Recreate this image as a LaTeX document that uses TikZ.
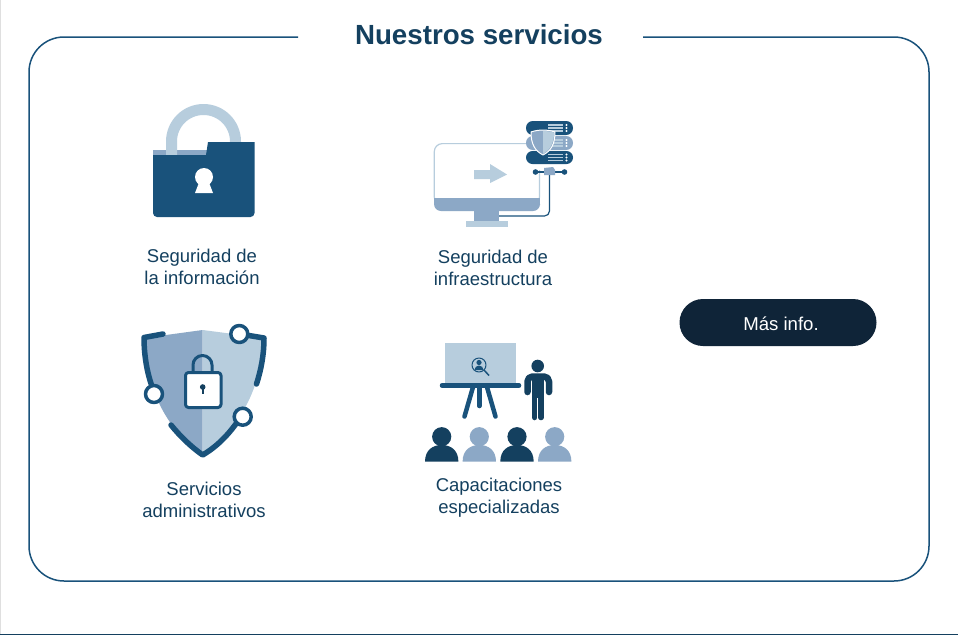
\documentclass[tikz,border=0pt]{standalone}
\usepackage{fontspec}
\setmainfont{Liberation Sans}
\definecolor{folderblue}{HTML}{19527B}
\definecolor{navyblue}{HTML}{14405F}
\definecolor{midblue}{HTML}{8CA8C6}
\definecolor{paleblue}{HTML}{B7CDDD}
\definecolor{btnblue}{HTML}{0F2438}
\begin{document}
\begin{tikzpicture}[x=1pt, y=-1pt, line join=round,
    label/.style = {text=navyblue, font=\fontsize{18.5}{22}\selectfont, align=center},
    dark/.style = {draw=folderblue, line width=5.5pt, line cap=round},
    ring/.style = {circle, draw=folderblue, line width=3.5pt, fill=white, minimum size=17pt, inner sep=0pt}]
    \useasboundingbox (0,0) rectangle (958,635);
    \fill[white] (0,0) rectangle (958,635);
    \fill[gray!25] (0,0) rectangle (1,635);
    \fill[navyblue] (0,634) rectangle (958,635);

    % Frame
    \draw[folderblue, line width=1.5pt, rounded corners=35pt] (298,37) -- (29,37) -- (29,581) -- (929,581) -- (929,37) -- (643,37);

    % Nodes
    \node[text=navyblue, font=\fontsize{27.7}{32}\selectfont\bfseries] (title) at (479,35) {Nuestros servicios};
    \node[label] (info) at (202,267) {Seguridad de\\la información};
    \node[label] (infra) at (493,268) {Seguridad de\\infraestructura};
    \node[label] (admin) at (204,500) {Servicios\\administrativos};
    \node[label] (training) at (499,497.5) {Capacitaciones\\especializadas};
    \node[fill=btnblue, rounded corners=23.5pt, minimum width=197pt, minimum height=47pt] (more) at (778,322.5) {};
    \node[text=white, font=\fontsize{18.6}{20}\selectfont] (moretext) at (781,324) {Más info.};

    % Folder
    \fill[midblue] (153,150) rectangle (207,156);
    \draw[paleblue, line width=11pt] (171.5,155) -- (171.5,141.5) arc[start angle=180, end angle=360, radius=32] -- (235.5,146);
    \fill[folderblue] (153,155) -- (206,155) -- (208,142) -- (254.5,142) [rounded corners=4pt] -- (254.5,217) -- (153,217) [sharp corners] -- cycle;
    \fill[white] (204,177) circle[radius=9];
    \fill[white] (200,180) -- (208,180) -- (213,193) -- (195,193) -- cycle;

    % Monitor
    \draw[paleblue, line width=1.2pt, rounded corners=8pt] (530,143.6) -- (434.3,143.6) -- (434.3,205) -- (539.5,205) -- (539.5,170);
    \fill[midblue, rounded corners=7pt] (434,198) -- (434,211) -- (540,211) -- (540,198) -- cycle;
    \fill[midblue] (434,198) rectangle (540,204);
    \fill[paleblue] (474,170) -- (490,170) -- (490,164) -- (507,174.5) -- (490,183) -- (490,179) -- (474,179) -- cycle;
    \fill[midblue] (474,211) rectangle (499,221);
    \fill[paleblue] (466,221) rectangle (508,227);

    % Servers
    \draw[folderblue, line width=1.2pt, rounded corners=5pt] (549.5,175) -- (549.5,216) -- (499,216);
    \fill[folderblue, rounded corners=6.8pt] (526,121) rectangle (573,135);
    \fill[midblue, rounded corners=6.8pt] (526,136) rectangle (573,150);
    \fill[folderblue, rounded corners=6.5pt] (526,151) rectangle (573,164);
    \foreach \rowy in {128,143,157.5}{
      \foreach \doty in {-3,0,3}{
        \draw[paleblue, line width=1.3pt] (548,\rowy+\doty) -- (563,\rowy+\doty);
        \fill[white] (566.5,\rowy+\doty) circle[radius=1.1];
      }
    }
    \draw[white, line width=1pt, fill=midblue] (543,130) .. controls (536,130) and (531,132) .. (531,132) .. controls (531,144) and (535,151) .. (543,155) .. controls (551,151) and (555,144) .. (555,132) .. controls (555,132) and (550,130) .. (543,130) -- cycle;
    \fill[paleblue] (543,131) .. controls (549,131) and (554,132.6) .. (554,132.6) .. controls (554,143) and (550,150) .. (543,154) -- cycle;
    \draw[folderblue, line width=2pt] (535,172) -- (565,172);
    \fill[folderblue] (535.5,172) circle[radius=2.8] (564.5,172) circle[radius=2.8];
    \fill[midblue] (544,168) -- (553,167) -- (555,170) -- (555,175) -- (544,175) -- cycle;

    % Shield
    \fill[midblue] (202.7,330) -- (144,338) .. controls (146,380) and (160,425) .. (202.7,455) -- cycle;
    \fill[paleblue] (202.7,330) -- (264,338) .. controls (262,380) and (245,425) .. (202.7,455) -- cycle;
    \draw[dark] (163,334) -- (144,337.5) .. controls (144,355) and (147,372) .. (151.5,385);
    \draw[dark] (240,334) -- (264,338) .. controls (264,355) and (261,370) .. (256.5,384);
    \draw[dark] (171,425) .. controls (180,436) and (190,446) .. (202.7,455) .. controls (216,447) and (228,436) .. (240,418);
    \node[ring] (ringa) at (154,394) {};
    \node[ring] (ringb) at (242.7,416.7) {};
    \node[ring] (ringc) at (239.3,334) {};
    \draw[folderblue, line width=3pt] (193,372) -- (193,365) arc[start angle=180, end angle=360, radius=9.5] -- (212,372);
    \draw[folderblue, line width=3pt, fill=white, rounded corners=3pt] (185.5,372.5) rectangle (221,407.5);
    \fill[navyblue] (202.7,387) circle[radius=2.8];
    \fill[navyblue] (201.7,388) rectangle (203.7,394);

    % Board
    \fill[paleblue] (445,343) rectangle (516,383);
    \draw[folderblue, line width=4.5pt, line cap=round] (442,385.5) -- (519,385.5);
    \draw[folderblue, line width=4.5pt, line cap=round] (473.3,386) -- (464.5,416.5);
    \draw[folderblue, line width=4.5pt, line cap=round] (479.3,386) -- (479.3,406);
    \draw[folderblue, line width=4.5pt, line cap=round] (486.7,386) -- (495.5,416.5);
    \draw[folderblue, line width=1pt] (479,365) circle[radius=7];
    \fill[folderblue] (479,362.5) circle[radius=2.6];
    \fill[folderblue] (474.5,370) arc[start angle=180, end angle=360, radius=4.5] -- cycle;
    \draw[folderblue, line width=1.5pt] (484,370) -- (489,375.5);

    % Speaker
    \fill[navyblue] (537.7,366) circle[radius=6.3];
    \draw[navyblue, line width=6.5pt, line cap=round, rounded corners=5pt] (527.5,392) -- (527.5,376.5) -- (549,376.5) -- (549,392);
    \fill[navyblue] (532,374) rectangle (544,398);
    \draw[navyblue, line width=5.5pt, line cap=round] (534.7,396) -- (534.7,417.5) (541,396) -- (541,417.5);

    % Audience
    \foreach \seatx/\seatcol in {441.7/navyblue, 479.3/midblue, 517/navyblue, 554.7/midblue}{
      \fill[\seatcol] (\seatx,436.7) circle[radius=9.6];
      \fill[\seatcol] (\seatx-16.7,461.7) .. controls (\seatx-16.7,450) and (\seatx-9,445) .. (\seatx,445) .. controls (\seatx+9,445) and (\seatx+16.7,450) .. (\seatx+16.7,461.7) -- cycle;
    }
\end{tikzpicture}
\end{document}
